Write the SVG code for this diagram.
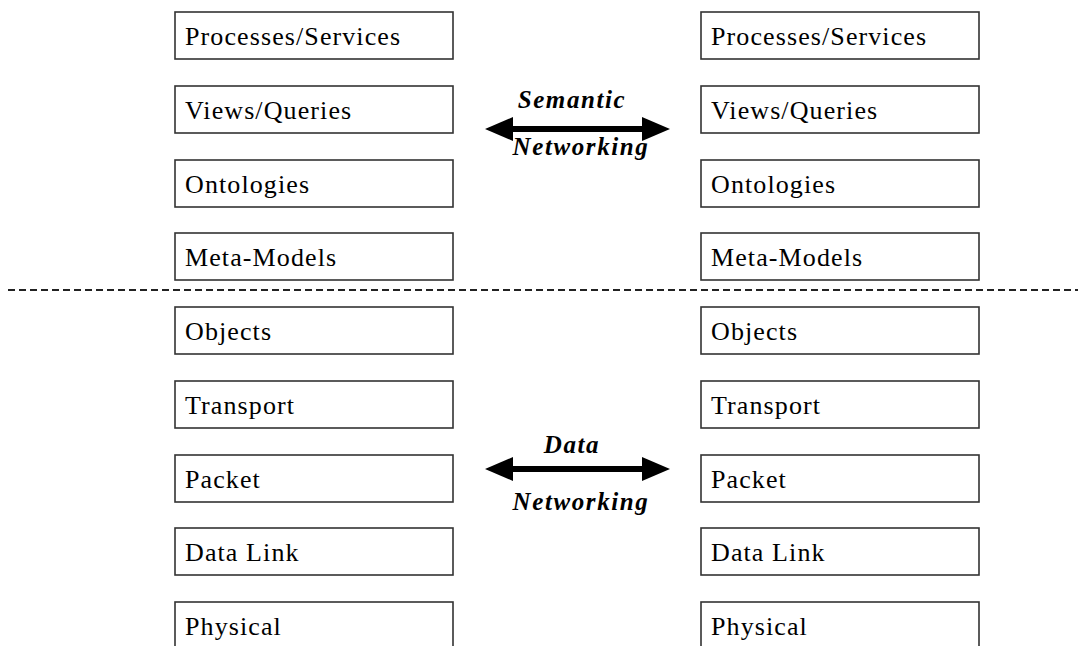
<svg xmlns="http://www.w3.org/2000/svg" width="1079" height="646" viewBox="0 0 1079 646">
<style>
.box{fill:#fff;stroke:#333;stroke-width:1.6}
.lbl{font-family:"Liberation Serif","Times New Roman",serif;font-size:26px;letter-spacing:1.1px;fill:#000}
.arr{font-family:"Liberation Serif","Times New Roman",serif;font-size:25px;font-weight:bold;font-style:italic;letter-spacing:1.6px;fill:#000;text-anchor:middle}
.shaft{stroke:#000;stroke-width:6}
</style>
<rect width="1079" height="646" fill="#fff"/>
<g id="left">
<g id="l1"><rect class="box" x="175" y="12" width="278" height="47"/><text class="lbl" x="185" y="45">Processes/Services</text></g>
<g id="l2"><rect class="box" x="175" y="86" width="278" height="47"/><text class="lbl" x="185" y="119">Views/Queries</text></g>
<g id="l3"><rect class="box" x="175" y="160" width="278" height="47"/><text class="lbl" x="185" y="193">Ontologies</text></g>
<g id="l4"><rect class="box" x="175" y="233" width="278" height="47"/><text class="lbl" x="185" y="266">Meta-Models</text></g>
<g id="l5"><rect class="box" x="175" y="307" width="278" height="47"/><text class="lbl" x="185" y="340">Objects</text></g>
<g id="l6"><rect class="box" x="175" y="381" width="278" height="47"/><text class="lbl" x="185" y="414">Transport</text></g>
<g id="l7"><rect class="box" x="175" y="455" width="278" height="47"/><text class="lbl" x="185" y="488">Packet</text></g>
<g id="l8"><rect class="box" x="175" y="528" width="278" height="47"/><text class="lbl" x="185" y="561">Data Link</text></g>
<g id="l9"><rect class="box" x="175" y="602" width="278" height="60"/><text class="lbl" x="185" y="635">Physical</text></g>
</g>
<g id="right">
<g id="r1"><rect class="box" x="701" y="12" width="278" height="47"/><text class="lbl" x="711" y="45">Processes/Services</text></g>
<g id="r2"><rect class="box" x="701" y="86" width="278" height="47"/><text class="lbl" x="711" y="119">Views/Queries</text></g>
<g id="r3"><rect class="box" x="701" y="160" width="278" height="47"/><text class="lbl" x="711" y="193">Ontologies</text></g>
<g id="r4"><rect class="box" x="701" y="233" width="278" height="47"/><text class="lbl" x="711" y="266">Meta-Models</text></g>
<g id="r5"><rect class="box" x="701" y="307" width="278" height="47"/><text class="lbl" x="711" y="340">Objects</text></g>
<g id="r6"><rect class="box" x="701" y="381" width="278" height="47"/><text class="lbl" x="711" y="414">Transport</text></g>
<g id="r7"><rect class="box" x="701" y="455" width="278" height="47"/><text class="lbl" x="711" y="488">Packet</text></g>
<g id="r8"><rect class="box" x="701" y="528" width="278" height="47"/><text class="lbl" x="711" y="561">Data Link</text></g>
<g id="r9"><rect class="box" x="701" y="602" width="278" height="60"/><text class="lbl" x="711" y="635">Physical</text></g>
</g>
<g id="divider">
<line x1="8" y1="290" x2="1078" y2="290" stroke="#222" stroke-width="2" stroke-dasharray="7 4"/>
</g>
<g id="connectors">
<g id="semantic">
<line class="shaft" x1="510" y1="129" x2="645" y2="129"/>
<polygon points="485,129 513,117 513,141" fill="#000"/>
<polygon points="670,129 642,117 642,141" fill="#000"/>
<text class="arr" x="572" y="108">Semantic</text>
<text class="arr" x="581" y="155">Networking</text>
</g>
<g id="data">
<line class="shaft" x1="510" y1="469" x2="645" y2="469"/>
<polygon points="485,469 513,457 513,481" fill="#000"/>
<polygon points="670,469 642,457 642,481" fill="#000"/>
<text class="arr" x="572" y="453">Data</text>
<text class="arr" x="581" y="510">Networking</text>
</g>
</g>
</svg>
